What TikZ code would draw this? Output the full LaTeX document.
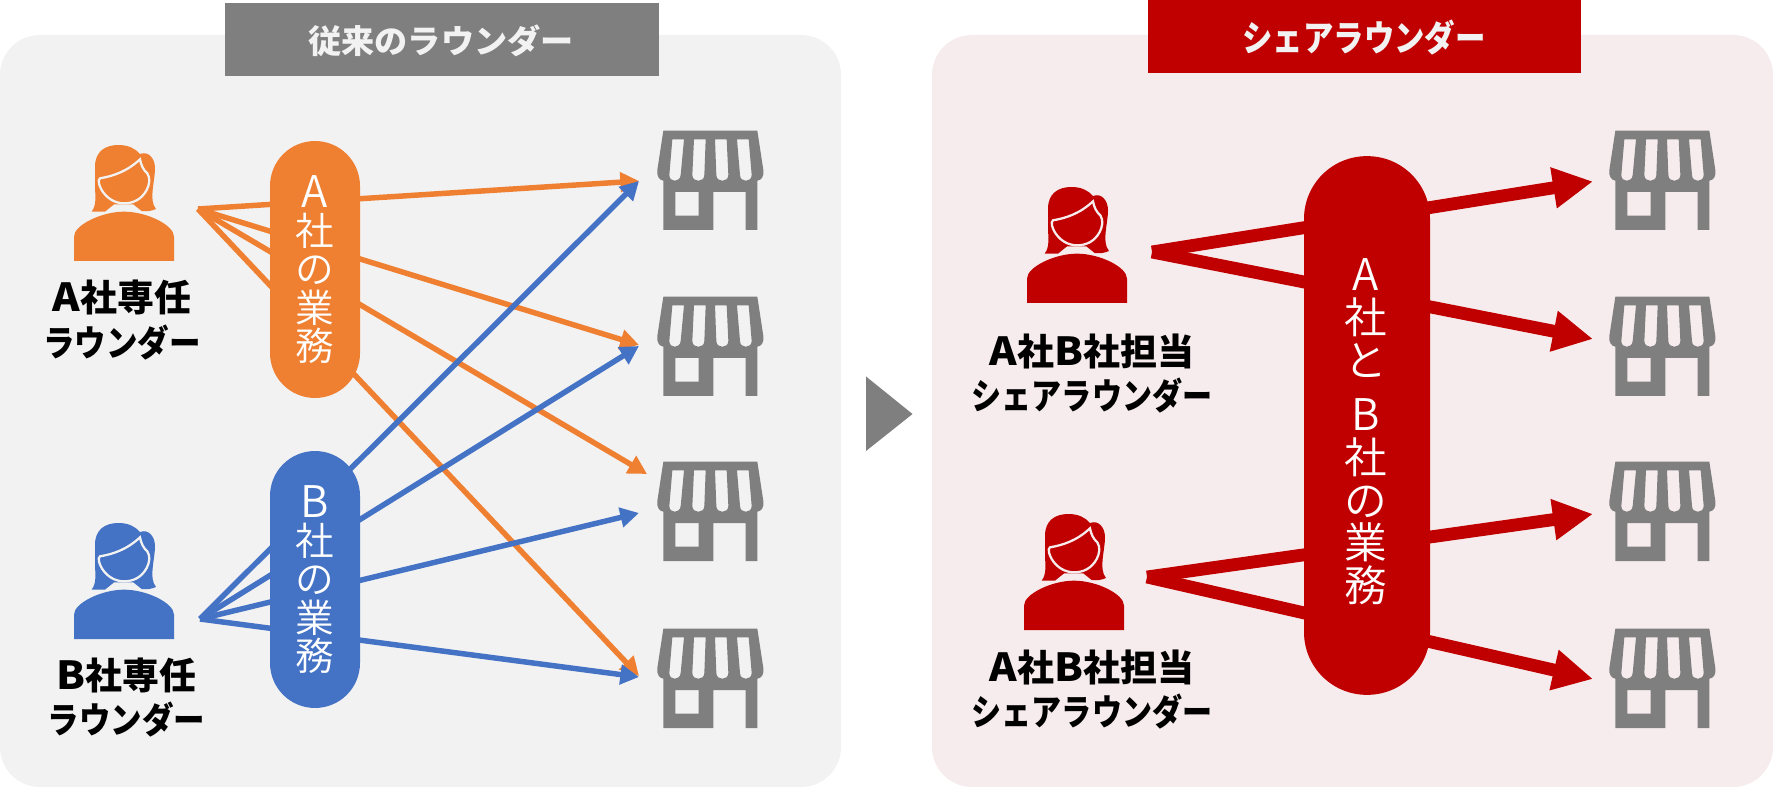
\documentclass[tikz,border=0pt]{standalone}
\usepackage{fontspec}
\usepackage{graphicx}
\usetikzlibrary{arrows.meta}
\setmainfont{Noto Sans CJK JP}
\newfontfamily\jplight{Noto Sans CJK JP DemiLight}
\definecolor{cgray}{HTML}{7F7F7F}
\definecolor{cred}{HTML}{C00000}
\definecolor{corange}{HTML}{EF7F31}
\definecolor{cblue}{HTML}{4472C4}
\definecolor{pleft}{HTML}{F2F2F2}
\definecolor{pright}{HTML}{F7ECED}
\newcommand{\storeicon}[2]{%
\begin{scope}[shift={(#1,#2)},x=0.25pt,y=-0.25pt]
\fill[cgray,even odd rule]
 (70,32) -- (352,32) -- (370,150) .. controls (372,170) and (365,180) .. (352,182) -- (352,330) -- (317,330) -- (317,216) -- (220,216) -- (220,330) -- (70,330) -- (70,182) .. controls (58,180) and (50,170) .. (52,150) -- cycle
 (106,216) rectangle (176,287)
 (97,58) -- (132,58) -- (122,165) .. controls (120,188) and (88,188) .. (88,165) -- cycle
 (162,58) -- (197,58) -- (193,165) .. controls (193,188) and (157,188) .. (157,165) -- cycle
 (225,58) -- (260,58) -- (265,165) .. controls (265,188) and (229,188) .. (229,165) -- cycle
 (291,58) -- (326,58) -- (335,165) .. controls (335,188) and (300,188) .. (300,165) -- cycle;
\end{scope}}
\newcommand{\personicon}[4]{%
\begin{scope}[shift={(#1,#2)},x=0.25pt,y=-0.25pt]
\fill[#3] (155,305) .. controls (170,285) and (166,260) .. (165,230) -- (165,170) .. controls (165,125) and (195,105) .. (235,105) .. controls (265,105) and (285,115) .. (300,132) .. controls (325,122) and (345,145) .. (345,175) .. controls (345,215) and (325,270) .. (348,297) .. controls (335,303) and (320,305) .. (305,303) -- (280,283) -- (222,283) -- (195,305) -- cycle;
\filldraw[fill=#3,draw=#4,line width=1.7pt] (180,205) .. controls (220,198) and (260,185) .. (300,148) .. controls (303,165) and (310,180) .. (322,190) .. controls (332,205) and (328,225) .. (320,240) .. controls (305,268) and (280,280) .. (252,280) .. controls (225,280) and (200,265) .. (185,240) .. controls (178,228) and (172,210) .. (180,205) -- cycle;
\fill[#3] (102,453) -- (402,453) -- (402,380) .. controls (402,345) and (320,305) .. (252,305) .. controls (185,305) and (102,345) .. (102,380) -- cycle;
\end{scope}}
\newcommand{\bigL}[1]{{\fontsize{32.7}{28.5}\selectfont #1}}
\newcommand{\bigLr}[1]{{\fontsize{32.7}{32}\selectfont #1}}
\newcommand{\kana}[2]{\scalebox{#1}[1]{\fontsize{27}{33.4}\selectfont #2}}
\newcommand{\latn}[1]{\scalebox{1.08}[1]{\fontsize{29}{33.4}\selectfont #1}}
\tikzset{
 panel/.style={rounded corners=30pt,draw=none},
 header/.style={fill=#1,inner sep=0pt,minimum width=325pt,minimum height=54.5pt},
 headtext/.style={text=pleft,inner sep=0pt,font=\fontsize{24.5}{30}\selectfont\bfseries},
 pillsmall/.style={fill=#1,text=white,rounded corners=33.7pt,inner sep=0pt,minimum width=67.5pt,minimum height=192.7pt,align=center,font=\fontsize{29}{28.6}\jplight\selectfont},
 pillbig/.style={fill=cred,rounded corners=47pt,inner sep=0pt,minimum width=94.5pt,minimum height=404pt},
 pilltext/.style={text=white,inner sep=0pt,align=center,font=\fontsize{32}{32}\jplight\selectfont},
 lab/.style={align=center,inner sep=0pt,font=\fontsize{27.7}{33.4}\selectfont\bfseries,text=black},
 thin arrow/.style={draw=#1,line width=4.1pt,-{Triangle[length=14pt,width=14.5pt]}},
 thick arrow/.style={draw=cred,line width=9.6pt,-{Triangle[length=30pt,width=29pt]}},
}
\begin{document}
\begin{tikzpicture}[x=0.75pt,y=-0.75pt]
\useasboundingbox (0,0) rectangle (1773,787);
\fill[white] (0,0) rectangle (1773,787);
\fill[pleft,panel] (0,35) rectangle (841,787);
\fill[pright,panel] (932,35) rectangle (1773,787);
\node[header=cgray] (hl) at (442,39.5) {};
\node[headtext] (hlt) at (441,40.5) {\scalebox{1.015}[1]{従来のラウンダー}};
\node[header=cred] (hr) at (1364.5,36.5) {};
\node[headtext] (hrt) at (1364,38) {\scalebox{0.845}[1]{\fontsize{27}{30}\selectfont シェアラウンダー}};
\fill[cgray] (866,376.5) -- (866,451) -- (912.5,414) -- cycle;

\foreach \y in {120,286,451,618}{\storeicon{640}{\y}\storeicon{1592}{\y}}
\personicon{40}{110}{corange}{pleft}
\personicon{40}{488}{cblue}{pleft}
\personicon{993}{152}{cred}{pright}
\personicon{990}{479}{cred}{pright}

\coordinate (oa) at (198,209);
\coordinate (ob) at (200,619);
\coordinate (e1) at (639,181);
\coordinate (e2) at (639,345);
\coordinate (e3) at (647,474);
\coordinate (e4) at (639,676);
\coordinate (f1) at (639,181);
\coordinate (f2) at (639,346);
\coordinate (f3) at (639,513);
\coordinate (f4) at (639,677);
\foreach \e in {e1,e2,e3,e4}{\draw[thin arrow=corange] (oa) -- (\e);}
\foreach \e in {f1,f2,f3,f4}{\draw[thin arrow=cblue] (ob) -- (\e);}

\coordinate (r1) at (1152,252);
\coordinate (r2) at (1147,577);
\coordinate (t1) at (1593,181.5);
\coordinate (t2) at (1593,339);
\coordinate (t3) at (1593,514);
\coordinate (t4) at (1593,679);
\draw[thick arrow] (r1) -- (t1);
\draw[thick arrow] (r1) -- (t2);
\draw[thick arrow] (r2) -- (t3);
\draw[thick arrow] (r2) -- (t4);

\node[pillsmall=corange] (pa) at (315,269.5) {\bigL{A}\\社\\の\\業\\務};
\node[pillsmall=cblue] (pb) at (315,579.5) {\bigL{B}\\社\\の\\業\\務};
\node[pillbig] (pc) at (1367,425.5) {};
\node[pilltext] (pct) at (1366,432) {\bigLr{A}\\社\\と\\[9pt]\bigLr{B}\\社\\の\\業\\務};

\node[lab] (la) at (122,320) {\latn{A}社専任\\\kana{0.875}{ラウンダー}};
\node[lab] (lb) at (126.5,697.5) {\latn{B}社専任\\\kana{0.875}{ラウンダー}};
\node[lab] (lc) at (1092,373.5) {\latn{A}社\latn{B}社担当\\\kana{0.835}{シェアラウンダー}};
\node[lab] (ld) at (1092,689.5) {\latn{A}社\latn{B}社担当\\\kana{0.835}{シェアラウンダー}};
\end{tikzpicture}
\end{document}
